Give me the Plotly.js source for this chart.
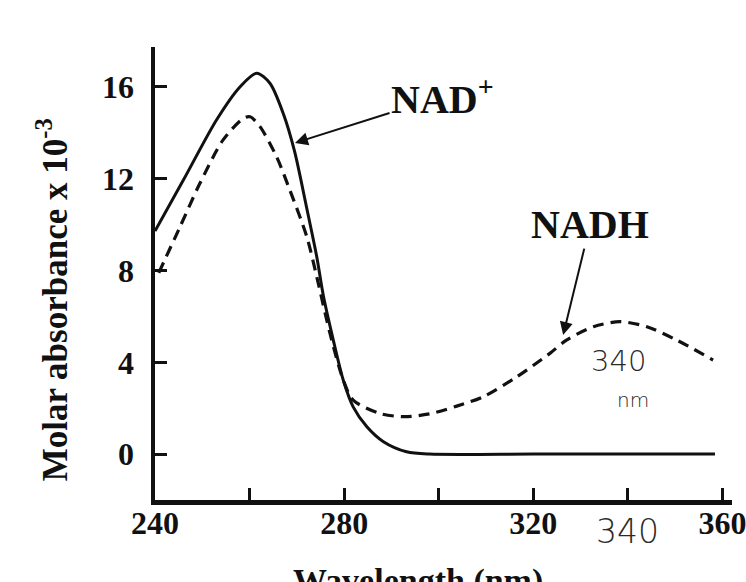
<!DOCTYPE html>
<html>
<head>
<meta charset="utf-8">
<script src="https://cdn.plot.ly/plotly-3.0.1.min.js"></script>
<style>
  html, body { margin: 0; padding: 0; background: #ffffff; }
  #chart { width: 746px; height: 582px; }
</style>
</head>
<body>
<div id="chart"></div>
<script>
// NAD+ (solid line) – wavelength (nm) and molar absorbance x 10^-3
const nadWavelength = [240, 246, 253, 258, 261.5, 264.3, 267.1, 269.5, 272, 274.2, 275.6, 277.7, 279.8, 281.9, 284.8, 288.3, 293.2, 298, 320, 340, 358.4];
const nadAbsorbance = [9.72, 11.94, 14.56, 16.01, 16.6, 16.16, 14.85, 13.2, 10.8, 8.6, 6.9, 4.97, 3.23, 2.06, 1.19, 0.54, 0.1, 0, 0, 0, 0];

// NADH (dashed line)
const nadhWavelength = [240.8, 245.3, 249.5, 254.4, 258.7, 260.1, 262.2, 265.7, 268.5, 272.1, 274.2, 277, 279.8, 281.9, 287.6, 292.5, 298, 303.8, 309.4, 316.5, 323.5, 327, 332.7, 338.3, 344, 350.3, 358];
const nadhAbsorbance = [7.9, 9.91, 11.8, 13.69, 14.63, 14.7, 14.27, 12.96, 11.51, 9.47, 7.73, 5.26, 3.23, 2.35, 1.77, 1.63, 1.75, 2.09, 2.5, 3.37, 4.39, 4.97, 5.55, 5.77, 5.55, 4.97, 4.1];

// Axis ticks
const xLabelledTicks = [240, 280, 320, 360];
const xLabelTexts = ['240', '280', '320', '360'];
const xUnlabelledTicks = [260, 300, 340];
const yTickValues = [0, 4, 8, 12, 16];
const yTickLabels = ['0', '4', '8', '12', '16'];

const serif = 'Liberation Serif, Times New Roman, serif';
const ink = '#111111';
const pencil = '#2a2a2a';

const traces = [
  {
    x: nadWavelength, y: nadAbsorbance, name: 'NAD+',
    type: 'scatter', mode: 'lines',
    line: { color: ink, width: 3, shape: 'spline', smoothing: 0.8 },
    cliponaxis: false, hoverinfo: 'skip'
  },
  {
    x: nadhWavelength, y: nadhAbsorbance, name: 'NADH',
    type: 'scatter', mode: 'lines',
    line: { color: ink, width: 3.2, dash: '11px,7px', shape: 'spline', smoothing: 0.8 },
    cliponaxis: false, hoverinfo: 'skip'
  }
];

const axisCommon = {
  showgrid: false, zeroline: false,
  showline: true, linecolor: ink, linewidth: 4.5,
  ticks: 'inside', ticklen: 12, tickwidth: 3, tickcolor: ink,
  tickmode: 'array',
  tickfont: { family: serif, size: 32, color: ink, weight: 'bold' },
  ticklabeloverflow: 'allow',
  fixedrange: true
};

const layout = {
  width: 746, height: 582,
  margin: { l: 155, r: 14, t: 47, b: 82, pad: 0 },
  paper_bgcolor: '#ffffff', plot_bgcolor: '#ffffff',
  showlegend: false,
  xaxis: Object.assign({}, axisCommon, {
    range: [240, 362], tickvals: xLabelledTicks, ticktext: xLabelTexts,
    ticklabelstandoff: -9,
    minor: { tickmode: 'array', tickvals: xUnlabelledTicks, ticks: 'inside',
             ticklen: 12, tickwidth: 3, tickcolor: ink, showgrid: false }
  }),
  yaxis: Object.assign({}, axisCommon, {
    range: [-2, 17.74], tickvals: yTickValues, ticktext: yTickLabels,
    ticklabelstandoff: 10
  }),
  annotations: [
    { text: 'NAD<sup>+</sup>', xref: 'x', yref: 'y', x: 269.6, y: 13.56,
      axref: 'x', ayref: 'y', ax: 300.8, ay: 15.6,
      xanchor: 'center', yanchor: 'middle',
      showarrow: true, arrowhead: 2, arrowsize: 1.3, arrowwidth: 2, arrowcolor: ink,
      font: { family: serif, size: 40, color: ink, weight: 'bold' } },
    { text: 'NADH', xref: 'x', yref: 'y', x: 326.3, y: 5.19,
      axref: 'x', ayref: 'y', ax: 332.0, ay: 10.0,
      xanchor: 'center', yanchor: 'middle',
      showarrow: true, arrowhead: 2, arrowsize: 1.3, arrowwidth: 2, arrowcolor: ink,
      font: { family: serif, size: 40, color: ink, weight: 'bold' } },
    { text: '340', xref: 'x', yref: 'y', x: 337.9, y: 4.05,
      xanchor: 'center', yanchor: 'middle', showarrow: false,
      font: { family: 'DejaVu Sans', size: 29, color: pencil, weight: 200 } },
    { text: 'nm', xref: 'x', yref: 'y', x: 341.1, y: 2.35,
      xanchor: 'center', yanchor: 'middle', showarrow: false,
      font: { family: 'DejaVu Sans', size: 20, color: pencil, weight: 200 } },
    { text: '340', xref: 'x', yref: 'paper', x: 340, y: -0.0706,
      xanchor: 'center', yanchor: 'middle', showarrow: false,
      font: { family: 'DejaVu Sans', size: 33, color: pencil, weight: 200 } },
    { text: 'Wavelength (nm)', xref: 'x', yref: 'paper', x: 295.6, y: -0.132,
      xanchor: 'center', yanchor: 'top', showarrow: false,
      font: { family: serif, size: 34, color: ink, weight: 'bold' } },
    { text: 'Molar absorbance x 10<sup>-3</sup>', xref: 'paper', yref: 'paper',
      x: -0.178, y: 0.4415, xanchor: 'center', yanchor: 'middle', textangle: -90,
      showarrow: false,
      font: { family: serif, size: 35, color: ink, weight: 'bold' } }
  ]
};

Plotly.newPlot('chart', traces, layout, { staticPlot: true, displayModeBar: false });
</script>
</body>
</html>
